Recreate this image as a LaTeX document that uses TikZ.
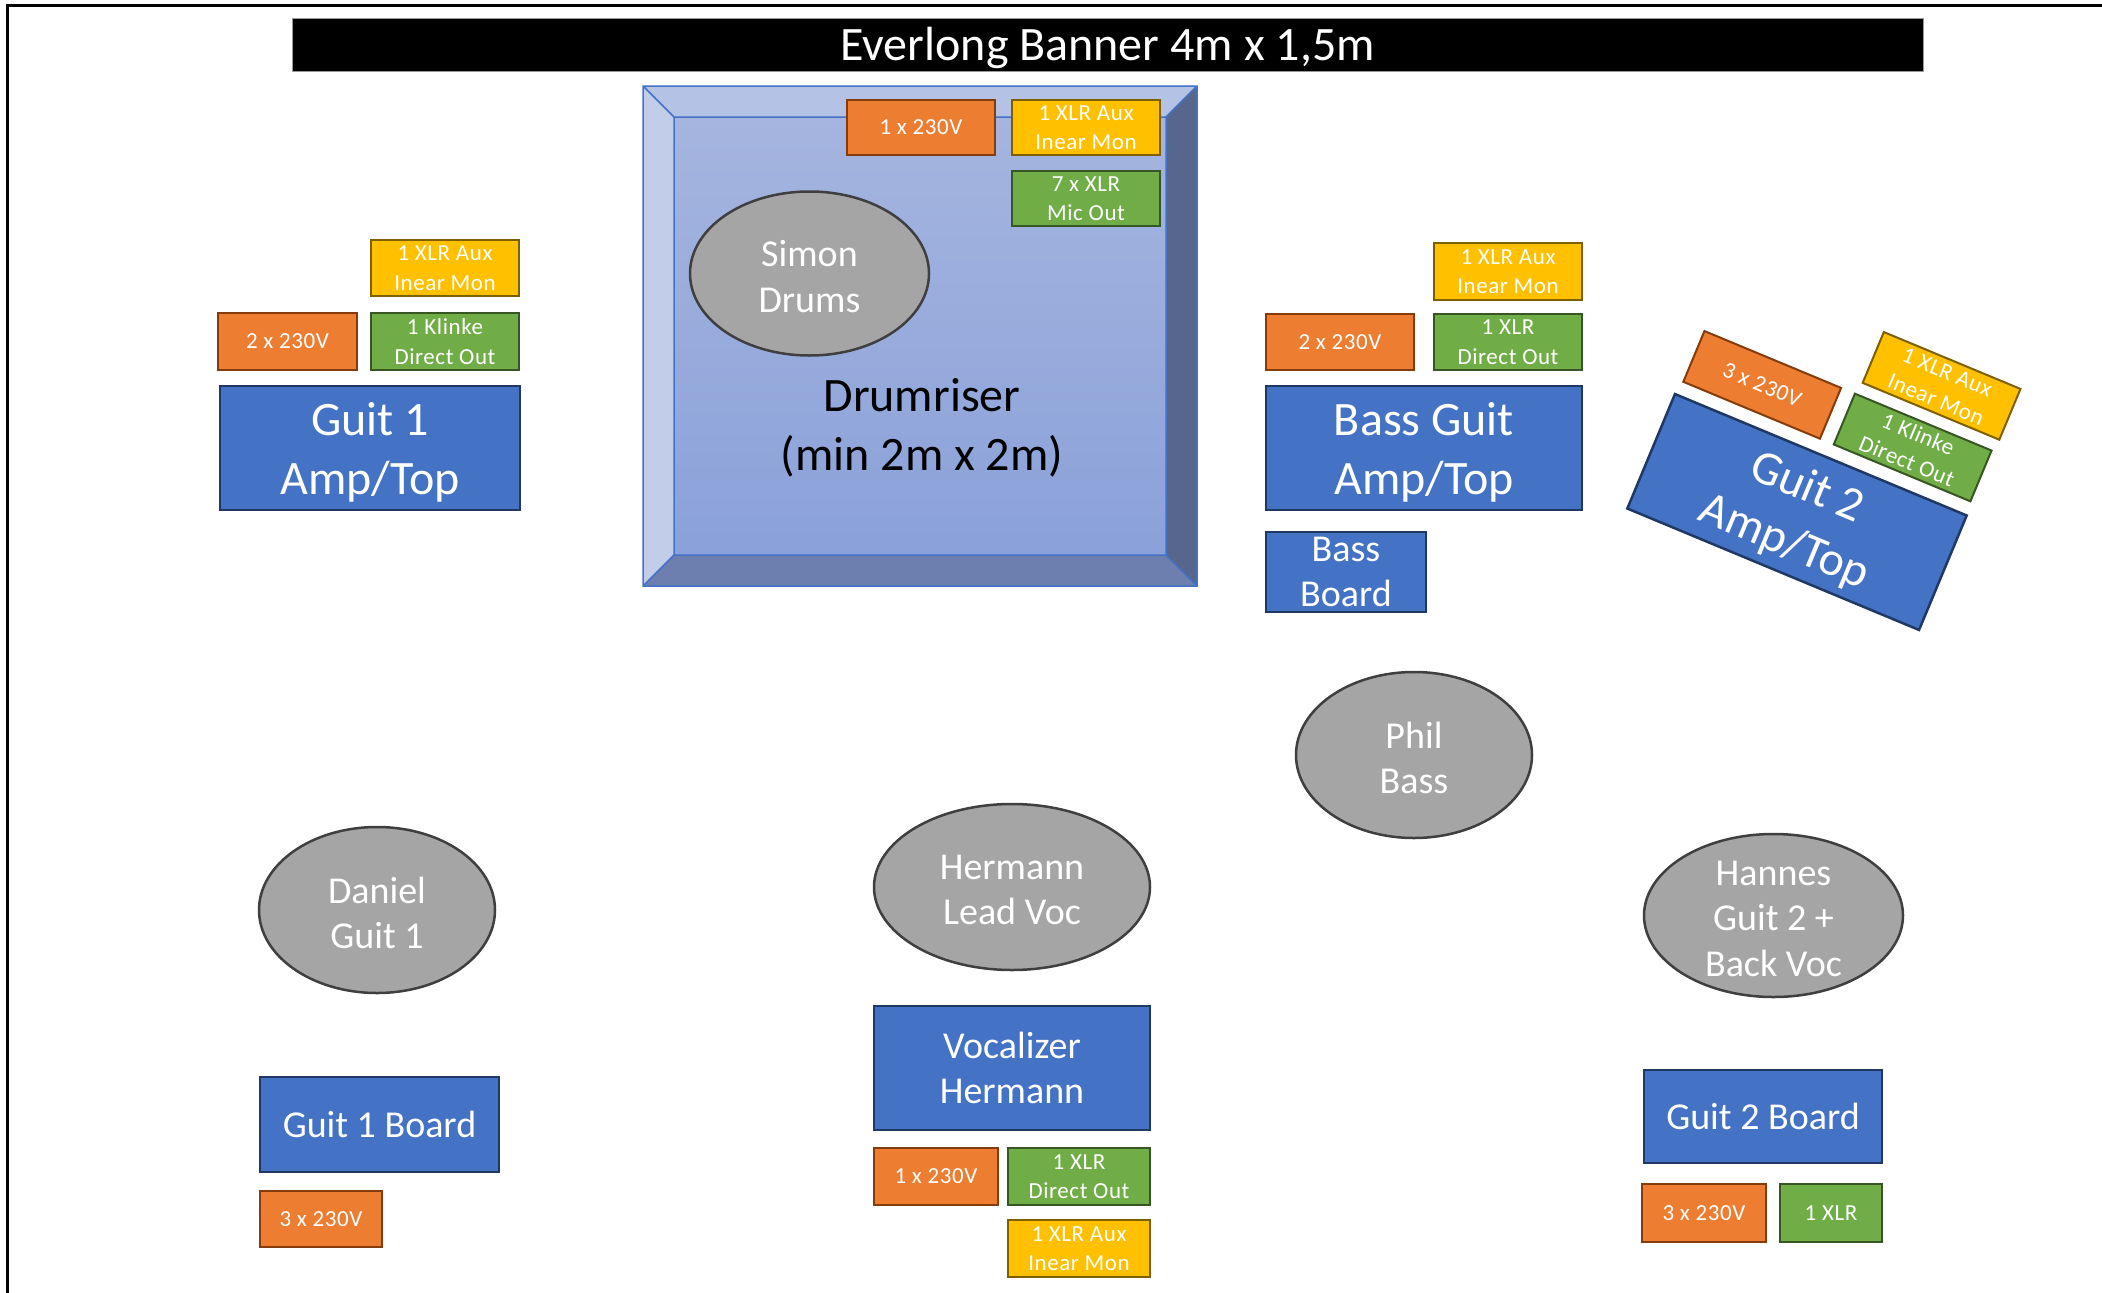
\documentclass[tikz,border=0pt]{standalone}
\usepackage{fontspec}
\setmainfont{Carlito}
\usetikzlibrary{shapes.geometric}

\definecolor{ampblue}{HTML}{4472C4}
\definecolor{ampline}{HTML}{1F3864}
\definecolor{pwrfill}{HTML}{ED7D31}
\definecolor{pwrline}{HTML}{843C0C}
\definecolor{auxfill}{HTML}{FFC000}
\definecolor{auxline}{HTML}{7F6000}
\definecolor{xlrfill}{HTML}{70AD47}
\definecolor{xlrline}{HTML}{375623}
\definecolor{personfill}{HTML}{A5A5A5}
\definecolor{personline}{HTML}{3F3F3F}
\definecolor{riserleft}{HTML}{C2CDEA}
\definecolor{risertop}{HTML}{B4C2E6}
\definecolor{riserright}{HTML}{56668D}
\definecolor{riserbottom}{HTML}{6D7FAF}
\definecolor{riserhigh}{HTML}{A5B5DF}
\definecolor{riserlow}{HTML}{8AA1D9}

\newcommand{\bannerfont}{\fontsize{48}{58}\selectfont}
\newcommand{\ampfont}{\fontsize{48}{59}\selectfont}
\newcommand{\personfont}{\fontsize{38}{45.5}\selectfont}
\newcommand{\plugfont}{\fontsize{23}{29.5}\selectfont\addfontfeature{LetterSpace=2.5}}
\newcommand{\bannerstrut}{\rule{0pt}{0.82em}}

\begin{document}
\begin{tikzpicture}[x=1pt,y=-1pt,
  wh/.style 2 args={minimum width=#1pt,minimum height=#2pt},
  plug/.style={line width=2pt,text=white,font=\plugfont,align=center,inner sep=0pt},
  pwr/.style={plug,draw=pwrline,fill=pwrfill},
  aux/.style={plug,draw=auxline,fill=auxfill},
  xlr/.style={plug,draw=xlrline,fill=xlrfill},
  amp/.style={draw=ampline,fill=ampblue,line width=2.5pt,text=white,font=\ampfont,align=center,inner sep=0pt,text depth=0pt},
  board/.style={draw=ampline,fill=ampblue,line width=2.5pt,text=white,font=\personfont,align=center,inner sep=0pt},
  person/.style={ellipse,draw=personline,fill=personfill,line width=2.5pt,inner sep=0pt},
  persontxt/.style={text=white,font=\personfont,align=center,inner sep=0pt,yshift=-3pt}]
\useasboundingbox (0,0) rectangle (2102,1293);
\draw[line width=3pt] (7,1293) -- (7,5) -- (2102,5);
\node[fill=black,draw=black!40,line width=1pt,text=white,font=\bannerfont,inner sep=0pt,execute at begin node=\bannerstrut,wh={1631}{53}] (banner) at (1107.5,44.5) {Everlong Banner 4m x 1,5m};

\fill[riserleft] (643,86) -- (674,117) -- (674,555) -- (643,586) -- cycle;
\fill[risertop] (643,86) -- (1197,86) -- (1166,117) -- (674,117) -- cycle;
\fill[riserright] (1197,86) -- (1197,586) -- (1166,555) -- (1166,117) -- cycle;
\fill[riserbottom] (643,586) -- (1197,586) -- (1166,555) -- (674,555) -- cycle;
\shade[top color=riserhigh,bottom color=riserlow] (674,117) rectangle (1166,555);
\draw[ampblue,line width=1.5pt] (643,86) rectangle (1197,586) (674,117) rectangle (1166,555)
  (643,86) -- (674,117) (1197,86) -- (1166,117) (1197,586) -- (1166,555) (643,586) -- (674,555);
\node[font=\ampfont,align=center,inner sep=0pt,text depth=0pt] (riser) at (922,424) {Drumriser\\(min 2m x 2m)};
\node[pwr,wh={148}{55}] (drumpwr) at (921,127.5) {1 x 230V};
\node[aux,wh={148}{55}] (drumaux) at (1086,127.5) {1 XLR Aux\\Inear Mon};
\node[xlr,wh={148}{55}] (drumxlr) at (1086,198.5) {7 x XLR\\Mic Out};
\node[person,wh={239}{164}] (simon) at (809.5,273.5) {};
\node[persontxt] (simontxt) at (simon) {Simon\\Drums};

\node[aux,wh={148}{56}] (g1aux) at (445,268) {1 XLR Aux\\Inear Mon};
\node[pwr,wh={139}{57}] (g1pwr) at (287.5,341) {2 x 230V};
\node[xlr,wh={148}{57}] (g1xlr) at (445,341.5) {1 Klinke\\Direct Out};
\node[amp,wh={300}{124}] (g1amp) at (370,448) {Guit 1\\Amp/Top};

\node[aux,wh={148}{57}] (bsaux) at (1508,271.5) {1 XLR Aux\\Inear Mon};
\node[pwr,wh={148}{56}] (bspwr) at (1340,342) {2 x 230V};
\node[xlr,wh={148}{56}] (bsxlr) at (1508,342) {1 XLR\\Direct Out};
\node[amp,wh={316}{124}] (bsamp) at (1424,448) {Bass Guit\\Amp/Top};
\node[board,wh={160}{80}] (bsboard) at (1346,572) {Bass\\Board};

\begin{scope}[shift={(1797,512)},rotate=-22.6,transform shape]
\node[amp,wh={316}{124}] (g2amp) at (0,0) {Guit 2\\Amp/Top};
\node[pwr,wh={148}{55}] (g2pwr) at (-81,-104) {3 x 230V};
\node[xlr,wh={148}{55}] (g2xlr) at (82,-104) {1 Klinke\\Direct Out};
\node[aux,wh={148}{55}] (g2aux) at (85,-172) {1 XLR Aux\\Inear Mon};
\end{scope}

\node[person,wh={236}{166}] (phil) at (1414,755) {};
\node[persontxt] (philtxt) at (phil) {Phil\\Bass};
\node[person,wh={236}{166}] (daniel) at (377,910) {};
\node[persontxt] (danieltxt) at (daniel) {Daniel\\Guit 1};
\node[person,wh={276}{166}] (hermann) at (1012,887) {};
\node[persontxt] (hermanntxt) at (hermann) {Hermann\\Lead Voc};
\node[person,wh={259}{163}] (hannes) at (1773.5,915.5) {};
\node[persontxt] (hannestxt) at (hannes) {Hannes\\Guit 2 +\\Back Voc};

\node[board,wh={276}{124}] (vocalizer) at (1012,1068) {Vocalizer\\Hermann};
\node[pwr,wh={124}{57}] (vocpwr) at (936,1176.5) {1 x 230V};
\node[xlr,wh={142}{57}] (vocxlr) at (1079,1176.5) {1 XLR\\Direct Out};
\node[aux,wh={142}{57}] (vocaux) at (1079,1248.5) {1 XLR Aux\\Inear Mon};

\node[board,wh={239}{95}] (g1board) at (379.5,1124.5) {Guit 1 Board};
\node[pwr,wh={122}{56}] (g1bpwr) at (321,1219) {3 x 230V};
\node[board,wh={238}{93}] (g2board) at (1763,1116.5) {Guit 2 Board};
\node[pwr,wh={124}{58}] (g2bpwr) at (1704,1213) {3 x 230V};
\node[xlr,wh={102}{58}] (g2bxlr) at (1831,1213) {1 XLR};
\end{tikzpicture}
\end{document}
